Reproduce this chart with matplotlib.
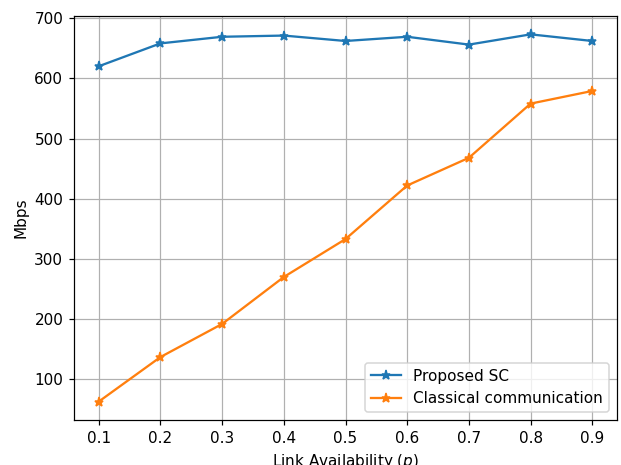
import matplotlib
matplotlib.use("Agg")
import matplotlib.pyplot as plt

p = [0.1, 0.2, 0.3, 0.4, 0.5, 0.6, 0.7, 0.8, 0.9]
proposed_sc = [620, 658, 669, 671, 662, 669, 656, 673, 662]
classical = [63, 137, 192, 270, 333, 422, 468, 558, 579]

DPI = 110
fig = plt.figure(figsize=(621/DPI, 465/DPI), dpi=DPI)
ax = fig.add_axes([74/621, 1-420/465, (617-74)/621, (420-16)/465])
ax.plot(p, proposed_sc, marker='*', label='Proposed SC')
ax.plot(p, classical, marker='*', label='Classical communication')
ax.set_xlabel('Link Availability ($p$)')
ax.set_ylabel('Mbps')
ax.set_xticks(p)
ax.grid(True)
ax.legend(loc='lower right')
fig.savefig('out.png', dpi=DPI)
